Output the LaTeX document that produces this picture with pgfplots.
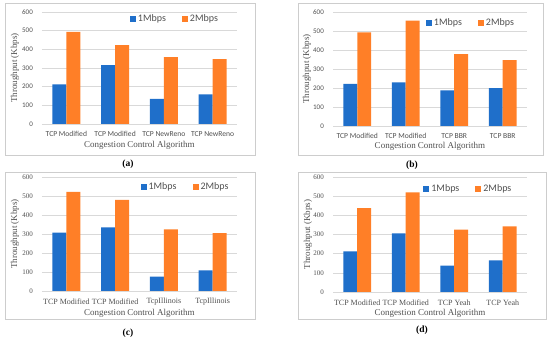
\documentclass[border=0pt]{standalone}
\usepackage{fontspec}
\setmainfont{Liberation Serif}
\newfontfamily\calibri{Carlito}
\usepackage{pgfplots}
\pgfplotsset{compat=1.18}
\definecolor{cblue}{RGB}{31,111,202}
\definecolor{corange}{RGB}{255,127,39}
\definecolor{tgray}{RGB}{80,80,80}
\definecolor{ggray}{RGB}{217,217,217}
\definecolor{fgray}{RGB}{205,205,205}
\pgfplotsset{
 panel/.style={
  scale only axis,
  anchor=south west,
  ybar=0pt, bar width=0.285,
  xmin=-0.5, xmax=3.5, ymin=0, ymax=600,
  xtick={0,1,2,3}, ytick={0,100,...,600},
  axis line style={draw=none},
  major tick style={draw=none},
  ymajorgrids, grid style={ggray, line width=0.6pt},
  /pgf/number format/assume math mode=true,
  tick label style={text=tgray},
  yticklabel style={anchor=east, inner sep=0pt, xshift=-9pt},
  xticklabel style={anchor=center, inner sep=0pt, yshift=-6pt},
  label style={text=tgray, font=\fontsize{9}{10}\selectfont},
  xlabel={Congestion Control Algorithm},
  ylabel={Throughput (Kbps)},
  legend style={draw=none, fill=none, font=\calibri\fontsize{10}{11}\selectfont, text=tgray, legend columns=2, anchor=center, /tikz/every even column/.append style={column sep=14pt}},
  legend image code/.code={\fill[##1] (0pt,-3pt) rectangle (6pt,3pt);},
 },
 sanstick/.style={tick label style={font=\calibri\fontsize{7}{8}\selectfont}, xticklabel style={font=\calibri\fontsize{7.6}{8}\selectfont}},
 seriftick/.style={tick label style={font=\fontsize{7}{8}\selectfont}, xticklabel style={font=\fontsize{8}{9}\selectfont}},
}
\begin{document}
\begin{tikzpicture}
\useasboundingbox (0pt,0pt) rectangle (550pt,340pt);
% frames
\draw[fgray, line width=0.6pt] (5pt,185pt) rectangle (255pt,337pt);
\draw[fgray, line width=0.6pt] (298pt,185pt) rectangle (543pt,337pt);
\draw[fgray, line width=0.6pt] (5pt,21pt) rectangle (255pt,168pt);
\draw[fgray, line width=0.6pt] (298pt,21pt) rectangle (546pt,168pt);
% (a)
\begin{axis}[panel, sanstick, at={(42pt,216pt)}, width=195pt, height=112pt,
  xticklabels={TCP Modified, TCP Modified, TCP NewReno, TCP NewReno},
  xlabel style={at={([yshift=-21pt]axis description cs:0.5,0)}, anchor=center},
  ylabel style={at={([xshift=-27pt]axis description cs:0,0.5)}, anchor=center},
  legend style={at={(axis description cs:0.682,0.9375)}}]
\addplot[fill=cblue, draw=none] coordinates {(0,212) (1,316) (2,134) (3,159)};
\addplot[fill=corange, draw=none] coordinates {(0,494) (1,422) (2,358) (3,347)};
\legend{1Mbps, 2Mbps}
\end{axis}
% (b)
\begin{axis}[panel, sanstick, at={(333pt,214pt)}, width=194pt, height=114pt,
  xticklabels={TCP Modified, TCP Modified, TCP BBR, TCP BBR},
  xlabel style={at={([yshift=-20pt]axis description cs:0.5,0)}, anchor=center},
  ylabel style={at={([xshift=-26pt]axis description cs:0,0.5)}, anchor=center},
  legend style={at={(axis description cs:0.711,0.904)}}]
\addplot[fill=cblue, draw=none] coordinates {(0,222) (1,229) (2,188) (3,199)};
\addplot[fill=corange, draw=none] coordinates {(0,493) (1,555) (2,378) (3,347)};
\legend{1Mbps, 2Mbps}
\end{axis}
% (c)
\begin{axis}[panel, seriftick, at={(42pt,49pt)}, width=195pt, height=114pt,
  xticklabels={TCP Modified, TCP Modified, TcpIllinois, TcpIllinois},
  xlabel style={at={([yshift=-22pt]axis description cs:0.5,0)}, anchor=center},
  ylabel style={at={([xshift=-27pt]axis description cs:0,0.5)}, anchor=center},
  legend style={at={(axis description cs:0.736,0.912)}}]
\addplot[fill=cblue, draw=none] coordinates {(0,307) (1,335) (2,76) (3,108)};
\addplot[fill=corange, draw=none] coordinates {(0,522) (1,480) (2,325) (3,305)};
\legend{1Mbps, 2Mbps}
\end{axis}
% (d)
\begin{axis}[panel, seriftick, at={(333pt,48pt)}, width=194pt, height=115pt,
  xticklabels={TCP Modified, TCP Modified, TCP Yeah, TCP Yeah},
  xlabel style={at={([yshift=-21pt]axis description cs:0.5,0)}, anchor=center},
  ylabel style={at={([xshift=-25pt]axis description cs:0,0.5)}, anchor=center},
  legend style={at={(axis description cs:0.698,0.896)}}]
\addplot[fill=cblue, draw=none] coordinates {(0,212) (1,306) (2,137) (3,165)};
\addplot[fill=corange, draw=none] coordinates {(0,437) (1,520) (2,325) (3,343)};
\legend{1Mbps, 2Mbps}
\end{axis}
% panel labels
\node[font=\bfseries\fontsize{9.5}{10}\selectfont] at (128pt,176pt) {(a)};
\node[font=\bfseries\fontsize{9.5}{10}\selectfont] at (412pt,175pt) {(b)};
\node[font=\bfseries\fontsize{9.5}{10}\selectfont] at (128pt,7pt) {(c)};
\node[font=\bfseries\fontsize{9.5}{10}\selectfont] at (422pt,10pt) {(d)};
\end{tikzpicture}
\end{document}
